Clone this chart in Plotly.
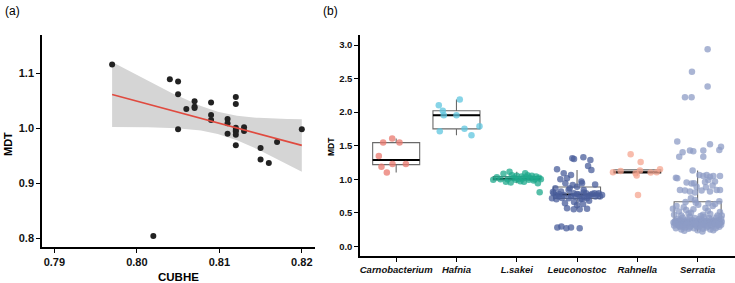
import numpy as np
import plotly.graph_objects as go

# ---------------- Panel (a) data ----------------
cubhe = [0.797, 0.804, 0.805, 0.805, 0.805, 0.806, 0.807, 0.807, 0.807, 0.809,
         0.809, 0.809, 0.811, 0.811, 0.811, 0.812, 0.812, 0.812, 0.812, 0.812,
         0.812, 0.812, 0.813, 0.813, 0.815, 0.815, 0.816, 0.817, 0.820, 0.802]
mdt_a = [1.116, 1.089, 1.085, 1.062, 0.998, 1.035, 1.049, 1.039, 1.037, 1.047,
         1.024, 1.015, 1.017, 1.009, 0.990, 1.057, 1.044, 1.001, 0.997, 0.994,
         0.988, 0.969, 1.002, 0.995, 0.964, 0.943, 0.937, 0.975, 0.998, 0.804]

# ---------------- Panel (b) data ----------------
categories = ["Carnobacterium", "Hafnia", "L.sakei", "Leuconostoc", "Rahnella", "Serratia"]
colors = ["#EA786D", "#5FC6DF", "#1FA98C", "#4A5D9B", "#F6A590", "#8E9CC6"]

carno_val = [1.545, 1.605, 1.545, 1.346, 1.187, 1.098, 1.227, 1.227]
carno_jit = [-0.216, -0.066, 0.055, -0.288, -0.244, -0.155, -0.061, 0.161]

hafnia_val = [2.101, 2.020, 1.952, 1.952, 2.186, 1.714, 1.750, 1.788, 1.654]
hafnia_jit = [-0.293, -0.227, -0.210, 0.0, 0.055, -0.277, 0.133, 0.382, 0.249]

lsakei_val = [0.99, 1.03, 1.08, 1.00, 1.11, 1.06, 0.95, 1.02, 1.05, 1.00,
              0.97, 1.04, 1.01, 1.09, 1.03, 0.99, 1.02, 1.05, 0.98, 1.00,
              1.04, 0.94, 1.02, 1.00, 0.805, 0.96, 1.00, 0.96, 0.99, 1.06]
lsakei_jit = [-0.39, -0.33, -0.22, -0.27, -0.12, -0.08, -0.10, -0.05, 0.00, 0.03,
              0.06, 0.08, 0.10, 0.14, 0.16, 0.20, 0.22, 0.25, 0.28, 0.30,
              0.32, 0.35, 0.37, 0.40, 0.38, -0.18, -0.15, 0.12, -0.02, 0.18]

leuco_val = [1.311, 1.300, 1.326, 1.287, 1.197, 1.138, 1.148, 1.088, 1.063, 0.999,
             1.013, 0.964, 0.939, 0.914, 0.939, 0.840, 0.864, 0.815, 0.790, 0.740,
             0.765, 0.790, 0.800, 0.765, 0.740, 0.790, 0.750, 0.715, 0.700, 0.715,
             0.740, 0.700, 0.715, 0.566, 0.616, 0.631, 0.551, 0.551, 0.561, 0.864,
             0.889, 0.278, 0.293, 0.268, 0.278, 0.268, 0.840, 0.790, 0.765, 0.780,
             0.760, 0.720, 0.750, 0.770, 0.730, 0.780, 0.770, 0.780, 0.740, 0.660,
             0.680, 0.640, 0.710, 0.810, 0.790, 0.920]
leuco_jit = [-0.078, -0.050, 0.105, 0.221, 0.183, 0.238, -0.332, -0.221, -0.100, -0.277,
             -0.166, 0.072, -0.194, -0.072, 0.083, 0.111, -0.360, -0.266, -0.388, -0.305,
             -0.221, -0.055, 0.111, 0.221, 0.305, 0.288, 0.194, -0.415, -0.343, -0.138,
             -0.028, 0.055, 0.166, -0.166, 0.000, 0.100, -0.055, 0.044, 0.166, -0.122,
             0.000, -0.327, -0.260, -0.177, -0.100, 0.044, -0.140, 0.360, 0.415, 0.000,
             -0.350, -0.250, -0.100, 0.030, 0.120, 0.250, 0.330, -0.300, 0.380, -0.050,
             0.200, -0.200, 0.080, -0.400, 0.150, 0.300]

rahn_val = [1.103, 1.123, 1.371, 1.257, 1.088, 1.053, 0.765, 1.098, 1.103, 1.148, 1.128]
rahn_jit = [-0.404, -0.277, -0.111, 0.055, -0.028, -0.011, 0.011, 0.221, 0.321, 0.376, 0.044]

serr_val = [
    # upper part
    2.936, 2.603, 2.380, 2.221, 2.221, 1.560, 1.401, 1.426, 1.416, 1.426,
    1.520, 1.485, 1.436, 1.336, 1.336, 1.130, 1.023, 1.013, 0.949, 0.934,
    0.939, 0.889, 1.063, 1.048, 1.063, 1.038, 1.048, 1.048, 0.989, 0.959,
    0.964, 0.904, 0.840, 0.815, 0.840, 0.830, 0.815, 0.800, 0.830, 0.840,
    0.879, 0.715, 0.690, 0.670,
    # box region
    0.38, 0.41, 0.39, 0.43, 0.38, 0.40, 0.44, 0.39, 0.42, 0.38,
    0.41, 0.39, 0.44, 0.38, 0.42, 0.40, 0.38, 0.43, 0.39, 0.41,
    0.47, 0.52, 0.58, 0.49, 0.55, 0.62, 0.47, 0.53, 0.60, 0.46,
    0.60, 0.54, 0.65, 0.57, 0.63, 0.51, 0.46, 0.50, 0.45, 0.48,
    0.56, 0.46, 0.66, 0.64,
    # dense band (upper)
    0.36, 0.35, 0.365, 0.345, 0.37, 0.355, 0.36, 0.35, 0.365, 0.355,
    0.37, 0.35, 0.36, 0.345, 0.365, 0.355, 0.37, 0.35, 0.36, 0.345,
    0.365, 0.355, 0.37, 0.35, 0.36, 0.345, 0.365, 0.355, 0.37, 0.36,
    0.345, 0.36, 0.355, 0.36, 0.37, 0.35, 0.36, 0.365, 0.355, 0.345,
    0.365, 0.345, 0.355, 0.35,
    # dense band (lower)
    0.31, 0.27, 0.33, 0.29, 0.25, 0.32, 0.28, 0.34, 0.26, 0.30,
    0.33, 0.27, 0.31, 0.24, 0.29, 0.33, 0.26, 0.31, 0.28, 0.34,
    0.25, 0.30, 0.33, 0.27, 0.31, 0.29, 0.32, 0.34, 0.31, 0.29,
    0.32, 0.28, 0.34, 0.30, 0.31, 0.33, 0.30, 0.32, 0.34, 0.33,
    0.23, 0.22, 0.24, 0.34]
serr_jit = [
    0.166, -0.094, 0.166, -0.210, -0.100, -0.338, -0.249, -0.127, -0.072, 0.094,
    0.205, 0.388, 0.360, -0.305, 0.094, -0.083, -0.360, -0.338, -0.183, -0.100,
    -0.061, -0.017, 0.028, 0.094, 0.150, 0.205, 0.260, 0.371, 0.177, 0.122,
    0.288, 0.249, 0.316, 0.205, -0.293, -0.210, -0.127, -0.044, 0.066, 0.371,
    0.138, -0.111, -0.044, 0.360,
    -0.37, -0.33, -0.29, -0.25, -0.21, -0.17, -0.13, -0.09, -0.05, -0.01,
    0.03, 0.07, 0.11, 0.15, 0.19, 0.23, 0.27, 0.31, 0.35, 0.39,
    -0.39, -0.31, -0.23, -0.15, -0.07, 0.01, 0.09, 0.17, 0.25, 0.33,
    -0.35, -0.19, -0.03, 0.13, 0.29, 0.37, -0.27, -0.11, 0.05, 0.21,
    -0.41, 0.40, -0.20, 0.18,
    -0.38, -0.35, -0.32, -0.29, -0.26, -0.23, -0.20, -0.17, -0.14, -0.11,
    -0.08, -0.05, -0.02, 0.01, 0.04, 0.07, 0.10, 0.13, 0.16, 0.19,
    0.22, 0.25, 0.28, 0.31, 0.34, 0.37, 0.40, -0.40, -0.34, -0.28,
    -0.16, -0.10, 0.02, 0.08, 0.14, 0.20, 0.26, 0.32, 0.38, -0.22,
    -0.04, 0.12, 0.30, -0.30,
    -0.39, -0.36, -0.33, -0.30, -0.27, -0.24, -0.21, -0.18, -0.15, -0.12,
    -0.09, -0.06, -0.03, 0.00, 0.03, 0.06, 0.09, 0.12, 0.15, 0.18,
    0.21, 0.24, 0.27, 0.30, 0.33, 0.36, 0.39, -0.37, -0.31, -0.25,
    -0.19, -0.13, -0.07, -0.01, 0.05, 0.11, 0.17, 0.23, 0.29, 0.35,
    -0.22, 0.08, 0.26, -0.04]

groups_val = [carno_val, hafnia_val, lsakei_val, leuco_val, rahn_val, serr_val]
groups_jit = [carno_jit, hafnia_jit, lsakei_jit, leuco_jit, rahn_jit, serr_jit]

xa_ticks = [0.79, 0.80, 0.81, 0.82]
ya_ticks = [0.8, 0.9, 1.0, 1.1]
yb_ticks = [0.0, 0.5, 1.0, 1.5, 2.0, 2.5, 3.0]

FONT = "Liberation Sans"
fig = go.Figure()

# ---------- Panel (a): linear fit with 95% CI ----------
x = np.array(cubhe)
y = np.array(mdt_a)
n = len(x)
slope, intercept = np.polyfit(x, y, 1)
resid = y - (slope * x + intercept)
s = np.sqrt(np.sum(resid ** 2) / (n - 2))
sxx = np.sum((x - x.mean()) ** 2)
t_crit = 2.048
xs = np.linspace(x.min(), x.max(), 80)
ys = slope * xs + intercept
se = s * np.sqrt(1.0 / n + (xs - x.mean()) ** 2 / sxx)
upper = ys + t_crit * se
lower = ys - t_crit * se

fig.add_trace(go.Scatter(x=np.concatenate([xs, xs[::-1]]), y=np.concatenate([upper, lower[::-1]]),
                         fill="toself", fillcolor="#D5D5D5", line=dict(width=0),
                         mode="lines", hoverinfo="skip", showlegend=False,
                         xaxis="x", yaxis="y"))
fig.add_trace(go.Scatter(x=cubhe, y=mdt_a, mode="markers",
                         marker=dict(size=6, color="#222222"),
                         showlegend=False, xaxis="x", yaxis="y"))
fig.add_trace(go.Scatter(x=xs, y=ys, mode="lines", line=dict(color="#E04A3F", width=1.6),
                         showlegend=False, xaxis="x", yaxis="y"))

# ---------- Panel (b): boxplots + jittered points ----------
bw = 0.78
for i, vals in enumerate(groups_val):
    v = np.array(vals)
    q1, med, q3 = np.percentile(v, [25, 50, 75])
    iqr = q3 - q1
    lf = v[v >= q1 - 1.5 * iqr].min()
    uf = v[v <= q3 + 1.5 * iqr].max()
    fig.add_trace(go.Box(x=[i], q1=[q1], median=[med], q3=[q3], lowerfence=[lf], upperfence=[uf],
                         width=bw, whiskerwidth=0, fillcolor="white",
                         line=dict(color="#6A6A6A", width=1.1), boxpoints=False,
                         showlegend=False, hoverinfo="skip", xaxis="x2", yaxis="y2"))
    fig.add_trace(go.Scatter(x=[i - bw / 2, i + bw / 2], y=[med, med], mode="lines",
                             line=dict(color="black", width=2), showlegend=False,
                             hoverinfo="skip", xaxis="x2", yaxis="y2"))

for i, (vals, jit) in enumerate(zip(groups_val, groups_jit)):
    fig.add_trace(go.Scatter(x=[i + j for j in jit], y=vals, mode="markers",
                             marker=dict(size=6.5, color=colors[i], opacity=0.75),
                             showlegend=False, xaxis="x2", yaxis="y2"))

axis_common = dict(showline=True, linecolor="black", linewidth=1.5, ticks="outside",
                   ticklen=4, tickwidth=1, tickcolor="black", showgrid=False, zeroline=False,
                   mirror=False)

fig.update_layout(
    width=735, height=283,
    margin=dict(l=0, r=0, t=0, b=0),
    paper_bgcolor="white", plot_bgcolor="white",
    font=dict(family=FONT, color="black"),
    boxmode="overlay",
    xaxis=dict(domain=[42 / 735, 315 / 735], range=[0.7885, 0.8216], tickvals=xa_ticks,
               tickformat=".2f", tickfont=dict(size=11, weight="bold", color="#111"),
               anchor="y", **axis_common),
    yaxis=dict(domain=[1 - 247 / 283, 1 - 35 / 283], range=[0.784, 1.1696], tickvals=ya_ticks,
               tickformat=".1f", tickfont=dict(size=11, weight="bold", color="#111"),
               anchor="x", **axis_common),
    xaxis2=dict(domain=[360 / 735, 1.0], range=[-0.6, 5.62], tickvals=list(range(6)),
                ticktext=categories,
                tickfont=dict(size=9.5, weight="bold", style="italic", color="#111"),
                anchor="y2", **axis_common),
    yaxis2=dict(domain=[1 - 256 / 283, 1 - 35 / 283], range=[-0.145, 3.149], tickvals=yb_ticks,
                tickformat=".1f", tickfont=dict(size=9.5, weight="bold", color="#111"),
                anchor="x2", **axis_common),
    annotations=[
        dict(text="(a)", x=3 / 735, y=1 - 2 / 283, xref="paper", yref="paper",
             xanchor="left", yanchor="top", showarrow=False, font=dict(size=12)),
        dict(text="(b)", x=321 / 735, y=1 - 2 / 283, xref="paper", yref="paper",
             xanchor="left", yanchor="top", showarrow=False, font=dict(size=12)),
        dict(text="MDT", x=8 / 735, y=1 - 144 / 283, xref="paper", yref="paper",
             xanchor="center", yanchor="middle", textangle=-90, showarrow=False,
             font=dict(size=11, weight="bold")),
        dict(text="CUBHE", x=178 / 735, y=1 - 277 / 283, xref="paper", yref="paper",
             xanchor="center", yanchor="middle", showarrow=False,
             font=dict(size=11.5, weight="bold")),
        dict(text="MDT", x=331 / 735, y=1 - 147 / 283, xref="paper", yref="paper",
             xanchor="center", yanchor="middle", textangle=-90, showarrow=False,
             font=dict(size=8.5, weight="bold")),
    ],
)

fig.write_html("out.html")
